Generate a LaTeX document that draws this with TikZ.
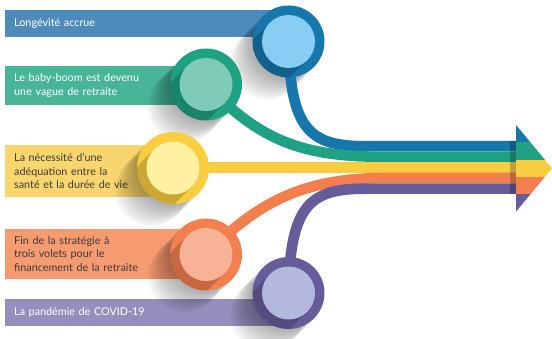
\documentclass[tikz,border=0pt]{standalone}
\usepackage{fontspec}
\setmainfont{Lato}
\usetikzlibrary{positioning}
\definecolor{barblue}{HTML}{4F8BBA}
\definecolor{ringblue}{HTML}{1777AC}
\definecolor{coreblue}{HTML}{88CDF3}
\definecolor{bargreen}{HTML}{48B498}
\definecolor{ringgreen}{HTML}{1FA184}
\definecolor{coregreen}{HTML}{80CBB8}
\definecolor{baryellow}{HTML}{F9D66D}
\definecolor{ringyellow}{HTML}{F8CD3F}
\definecolor{coreyellow}{HTML}{FDF0A0}
\definecolor{barorange}{HTML}{F69A70}
\definecolor{ringorange}{HTML}{F37F4F}
\definecolor{coreorange}{HTML}{F8B295}
\definecolor{barpurple}{HTML}{968EBC}
\definecolor{ringpurple}{HTML}{675C9B}
\definecolor{corepurple}{HTML}{B3B8DD}
\definecolor{darktext}{HTML}{3C3C3C}
\tikzstyle{bar} = [rectangle, anchor=west, inner xsep=9pt, inner ysep=0pt,
    align=left, text=white, font=\fontsize{10.8}{13.5}\selectfont]
\tikzstyle{ring} = [circle, minimum size=72pt, inner sep=0pt]
\tikzstyle{core} = [circle, minimum size=53pt, inner sep=0pt]
\tikzstyle{flow} = [line width=10.6pt, line cap=butt]

\begin{document}
\begin{tikzpicture}[x=1pt,y=-1pt]
  \useasboundingbox (0,0) rectangle (552,339);

  \node[bar, fill=barblue,   text width=265pt, minimum height=27pt] (t1) at (5,23.5) {Longévité accrue};
  \node[bar, fill=bargreen,  text width=183pt, minimum height=39pt] (t2) at (5,85.5) {Le baby-boom est devenu\\une vague de retraite};
  \node[bar, fill=baryellow, text width=150pt, minimum height=52pt, text=darktext] (t3) at (5,171) {La nécessité d’une\\adéquation entre la\\santé et la durée de vie};
  \node[bar, fill=barorange, text width=183pt, minimum height=50pt, text=darktext] (t4) at (5,254) {Fin de la stratégie à\\trois volets pour le\\financement de la retraite};
  \node[bar, fill=barpurple, text width=265pt, minimum height=27pt] (t5) at (5,312.5) {La pandémie de COVID-19};

  \coordinate (c1) at (288.5,41.5);
  \coordinate (c2) at (206,84.5);
  \coordinate (c3) at (173,168);
  \coordinate (c4) at (206,254.5);
  \coordinate (c5) at (288.5,293);

  \foreach \c in {c1,c2,c3,c4,c5}
    \foreach \k in {1,...,10}
      \fill[black, opacity=0.035] ([shift={(-2.2*\k,2.2*\k)}]\c) circle (36pt);

  \coordinate (s1) at (365,146.2);  \coordinate (e1) at (516,146.2);
  \coordinate (s2) at (385,156.8);  \coordinate (e2) at (516,156.8);
  \coordinate (s3) at (300,167.4);  \coordinate (e3) at (516,167.4);
  \coordinate (s4) at (385,178);    \coordinate (e4) at (516,178);
  \coordinate (s5) at (365,188.7);  \coordinate (e5) at (516,188.7);

  \draw[flow, ringblue]   (c1) .. controls (290,130) and (310,146.2) .. (s1) -- (e1);
  \draw[flow, ringgreen]  (c2) .. controls (260,140) and (300,156.8) .. (s2) -- (e2);
  \draw[flow, ringyellow] (c3 |- s3) -- (s3) -- (e3);
  \draw[flow, ringorange] (c4) .. controls (255,205) and (300,178) .. (s4) -- (e4);
  \draw[flow, ringpurple] (c5) .. controls (290,205) and (310,188.7) .. (s5) -- (e5);
  \fill[black, opacity=0.22] (510,140.9) rectangle (516,194);

  \begin{scope}
    \clip (516,125) -- (552,168.3) -- (516,211.6) -- cycle;
    \foreach \col [count=\i] in {ringblue,ringgreen,ringyellow,ringorange,ringpurple}
      \fill[\col] (515,{125+17.32*(\i-1)}) rectangle (552,{125+17.32*\i});
  \end{scope}

  \foreach \c/\r/\k in {c1/ringblue/coreblue, c2/ringgreen/coregreen, c3/ringyellow/coreyellow,
                        c4/ringorange/coreorange, c5/ringpurple/corepurple} {
    \node[ring, fill=\r] (\c ring) at (\c) {};
    \begin{scope}
      \clip (\c) circle (36pt);
      \fill[black, opacity=0.18] ([shift={(18.7,18.7)}]\c) -- ([shift={(-21.3,58.7)}]\c)
        -- ([shift={(-58.7,21.3)}]\c) -- ([shift={(-18.7,-18.7)}]\c) -- cycle;
    \end{scope}
    \node[core, fill=\k] (\c core) at (\c) {};
  }
\end{tikzpicture}
\end{document}
